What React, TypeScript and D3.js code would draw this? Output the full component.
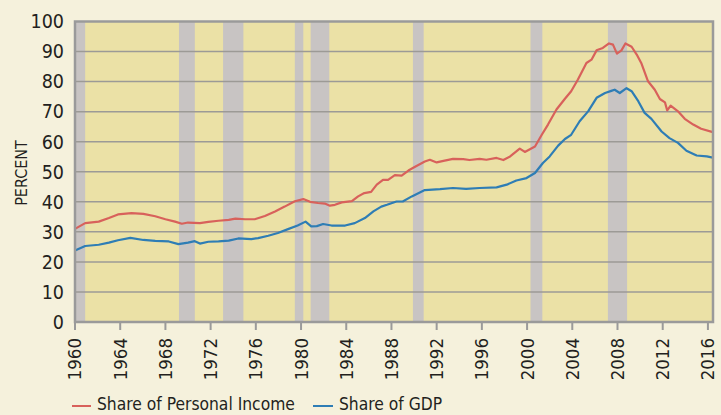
import React from "react";
import * as d3 from "d3";

const incomeYears = [1960.0,1960.9,1962.1,1963.0,1963.8,1965.0,1966.05,1967.1,1968.0,1968.85,1969.45,1970.0,1971.05,1971.8,1972.7,1973.6,1974.2,1975.05,1975.9,1976.8,1977.7,1978.55,1979.45,1980.2,1980.8,1981.5,1982.1,1982.55,1983.0,1983.6,1984.5,1985.05,1985.6,1986.2,1986.7,1987.25,1987.7,1988.3,1988.9,1989.5,1990.05,1990.95,1991.4,1992.0,1992.6,1993.45,1994.35,1994.9,1995.8,1996.4,1997.3,1997.9,1998.5,1999.35,1999.8,2000.7,2001.3,2001.85,2002.6,2003.35,2003.9,2004.5,2005.25,2005.7,2006.15,2006.7,2007.25,2007.6,2007.95,2008.35,2008.7,2009.25,2009.7,2010.1,2010.7,2011.3,2011.75,2012.2,2012.4,2012.7,2013.35,2013.95,2014.7,2015.4,2016.43];
const incomeValues = [31.0,32.9,33.4,34.6,35.8,36.2,36.0,35.2,34.2,33.4,32.7,33.1,32.9,33.3,33.7,34.0,34.4,34.2,34.2,35.3,36.8,38.4,40.2,40.9,40.0,39.6,39.4,38.7,39.0,39.8,40.2,41.8,42.9,43.3,45.7,47.3,47.3,48.9,48.7,50.4,51.6,53.4,54.0,53.1,53.6,54.3,54.2,53.9,54.3,54.0,54.6,53.9,55.1,57.7,56.6,58.4,62.3,65.7,70.7,74.3,76.8,80.7,86.2,87.3,90.4,91.2,92.7,92.3,89.3,90.4,92.7,91.6,89.0,86.2,80.1,77.3,74.2,73.1,70.4,72.0,70.1,67.6,65.7,64.3,63.2];

const gdpYears = [1960.0,1960.9,1962.1,1963.0,1963.8,1964.9,1966.05,1967.1,1968.3,1969.15,1970.0,1970.6,1971.05,1971.8,1972.7,1973.6,1974.45,1975.6,1976.2,1977.1,1977.95,1978.85,1979.7,1980.4,1980.9,1981.4,1981.95,1982.7,1983.9,1984.75,1985.65,1986.4,1987.1,1987.6,1988.45,1989.0,1989.8,1990.95,1992.3,1993.45,1994.6,1995.8,1997.3,1998.2,1999.05,1999.95,2000.7,2001.4,2002.0,2002.75,2003.35,2003.9,2004.65,2005.4,2006.15,2006.9,2007.45,2007.75,2008.2,2008.8,2009.25,2009.85,2010.4,2011.0,2011.9,2012.6,2013.35,2014.1,2015.0,2015.9,2016.43];
const gdpValues = [23.8,25.3,25.7,26.4,27.2,28.0,27.3,27.0,26.8,25.9,26.4,26.9,26.1,26.7,26.8,27.1,27.8,27.6,27.9,28.7,29.6,30.9,32.1,33.4,31.8,31.9,32.6,32.1,32.1,32.9,34.6,36.8,38.4,39.0,40.1,40.1,41.8,43.9,44.2,44.6,44.3,44.6,44.8,45.7,47.1,47.9,49.6,52.9,55.1,58.7,60.9,62.3,66.8,70.1,74.6,76.2,76.9,77.3,76.2,77.8,76.8,73.4,69.6,67.6,63.4,61.2,59.6,57.0,55.4,55.1,54.7];

const recessionStarts = [1960.0, 1969.2, 1973.1, 1979.45, 1980.85, 1989.9, 2000.3, 2007.15];
const recessionEnds = [1960.9, 1970.6, 1974.9, 1980.2, 1982.5, 1990.85, 2001.35, 2008.85];

const yTicks = [0, 10, 20, 30, 40, 50, 60, 70, 80, 90, 100];
const xTicks = [1960, 1964, 1968, 1972, 1976, 1980, 1984, 1988, 1992, 1996, 2000, 2004, 2008, 2012, 2016];

const seriesNames = ["Share of Personal Income", "Share of GDP"];
const seriesColors = ["#d8615b", "#2e7db5"];

const W = 721, H = 415;
const FONT = "'Liberation Sans Narrow', 'Arial Narrow', 'DejaVu Sans Condensed', sans-serif";
const TEXT = "#231f20";
const GRID = "#9c9a96";

export default function App() {
  const x = d3.scaleLinear().domain([1960, 2016.45]).range([75, 713]);
  const y = d3.scaleLinear().domain([0, 100]).range([322, 21.5]);
  const line = d3.line<[number, number]>().x(d => x(d[0])).y(d => y(d[1]));
  const income: [number, number][] = incomeYears.map((yr, i) => [yr, incomeValues[i]]);
  const gdp: [number, number][] = gdpYears.map((yr, i) => [yr, gdpValues[i]]);
  const x0 = x(1960), x1 = x(2016.45), yTop = y(100), yBot = y(0);

  return (
    <svg width={W} height={H} style={{ position: "absolute", left: 0, top: 0, display: "block" }} fontFamily={FONT}>
      <rect x={0} y={0} width={W} height={H} fill="#f5f1dc" />
      <rect x={x0} y={yTop} width={x1 - x0} height={yBot - yTop} fill="#ebe1a6" />
      {recessionStarts.map((s, i) => (
        <rect key={i} x={x(s)} y={yTop} width={x(recessionEnds[i]) - x(s)} height={yBot - yTop} fill="#c8c4c3" />
      ))}
      {yTicks.slice(1, -1).map(t => (
        <line key={t} x1={x0} x2={x1} y1={y(t)} y2={y(t)} stroke={GRID} strokeWidth={1.5} />
      ))}
      <path d={line(income) || ""} fill="none" stroke={seriesColors[0]} strokeWidth={2.2} strokeLinejoin="round" />
      <path d={line(gdp) || ""} fill="none" stroke={seriesColors[1]} strokeWidth={2.2} strokeLinejoin="round" />
      <rect x={x0} y={yTop} width={x1 - x0} height={yBot - yTop} fill="none" stroke="#9a9a9a" strokeWidth={2.5} />
      {xTicks.map(t => (
        <line key={t} x1={x(t)} x2={x(t)} y1={yBot} y2={yBot + 8} stroke="#9a9a9a" strokeWidth={2} />
      ))}
      {yTicks.map(t => (
        <text key={t} x={64} y={y(t)} dy="0.35em" textAnchor="end" fontSize={19.5} fill={TEXT}>{t}</text>
      ))}
      {xTicks.map(t => (
        <text key={t} transform={`translate(${x(t)},338) rotate(-90)`} dy="0.35em" textAnchor="end" fontSize={18.5} fill={TEXT}>{t}</text>
      ))}
      <text transform="translate(21,173) rotate(-90)" dy="0.35em" textAnchor="middle" fontSize={16} fill={TEXT}>PERCENT</text>
      <line x1={72} x2={91} y1={406} y2={406} stroke={seriesColors[0]} strokeWidth={2} />
      <text x={97} y={410} fontSize={17.3} fill={TEXT}>{seriesNames[0]}</text>
      <line x1={313} x2={333} y1={406} y2={406} stroke={seriesColors[1]} strokeWidth={2} />
      <text x={339} y={410} fontSize={17.3} fill={TEXT}>{seriesNames[1]}</text>
    </svg>
  );
}
